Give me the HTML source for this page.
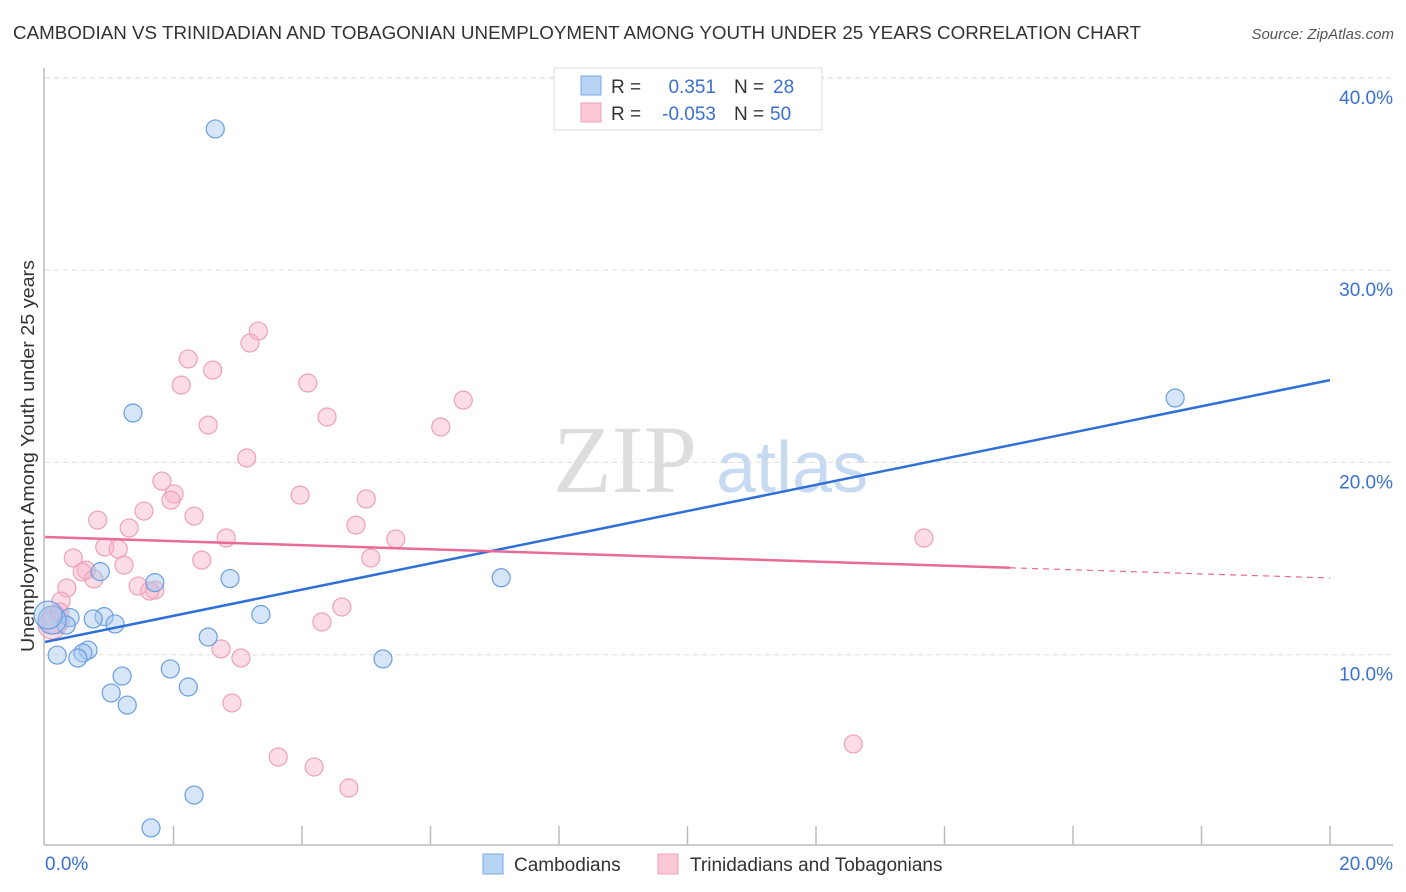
<!DOCTYPE html>
<html><head><meta charset="utf-8"><style>
body{margin:0;background:#fff;font-family:"Liberation Sans",sans-serif;}
svg{display:block}
</style></head><body>
<svg id="chart" width="1406" height="892" xmlns="http://www.w3.org/2000/svg">
<text x="13" y="39" font-size="18" fill="#333" textLength="1128" lengthAdjust="spacingAndGlyphs">CAMBODIAN VS TRINIDADIAN AND TOBAGONIAN UNEMPLOYMENT AMONG YOUTH UNDER 25 YEARS CORRELATION CHART</text>
<text x="1394" y="39" font-size="15" fill="#555" text-anchor="end" font-style="italic">Source: ZipAtlas.com</text>
<g><text x="553" y="492" font-size="96" fill="#ddd" font-family="Liberation Serif,serif">ZIP</text><text x="716" y="492" font-size="72" fill="#c8daf2">atlas</text></g>
<g id="grid"></g>
<g id="axes"></g>
<g id="marks"></g>
<text transform="translate(34,456) rotate(-90)" font-size="18" fill="#333" text-anchor="middle" textLength="392" lengthAdjust="spacingAndGlyphs">Unemployment Among Youth under 25 years</text>
<g>
<rect x="554" y="68" width="268" height="62" fill="#fff" stroke="#ddd"/>
<rect x="581" y="76" width="20" height="19" fill="#b8d4f5" stroke="#7aa8e6"/>
<rect x="581" y="103" width="20" height="19" fill="#fcc8d6" stroke="#eea0b8"/>
<text x="611" y="93" font-size="19" fill="#333">R = </text><text x="716" y="93" font-size="19" fill="#3b70d0" text-anchor="end">0.351</text>
<text x="734" y="93" font-size="19" fill="#333">N = </text><text x="773" y="93" font-size="19" fill="#3b70d0">28</text>
<text x="611" y="120" font-size="19" fill="#333">R = </text><text x="716" y="120" font-size="19" fill="#3b70d0" text-anchor="end">-0.053</text>
<text x="734" y="120" font-size="19" fill="#333">N = </text><text x="770" y="120" font-size="19" fill="#3b70d0">50</text>
</g>
<g>
<rect x="483" y="854" width="20" height="20" fill="#b8d4f5" stroke="#7aa8e6"/>
<text x="514" y="871" font-size="19" fill="#333">Cambodians</text>
<rect x="658" y="854" width="20" height="20" fill="#fcc8d6" stroke="#eea0b8"/>
<text x="690" y="871" font-size="19" fill="#333">Trinidadians and Tobagonians</text>
</g>
</svg>
<script>
const xTicks=[0,2,4,6,8,10,12,14,16,18,20];
const yTicks=[10,20,30,40];
const yTickLabels=["10.0%","20.0%","30.0%","40.0%"];
const blueX=[2.65,1.37,17.59,7.10,2.88,1.71,0.86,3.36,0.39,0.92,0.75,1.09,0.33,0.11,2.54,0.67,0.59,0.19,0.51,5.26,1.95,1.20,2.23,1.03,1.28,2.32,1.65,0.05];
const blueY=[37.34,22.57,23.35,14.0,13.96,13.75,14.32,12.09,11.93,11.98,11.86,11.60,11.54,11.80,10.92,10.24,10.09,9.98,9.83,9.78,9.26,8.89,8.32,8.01,7.38,2.70,0.99,12.06];
const pinkX=[3.32,3.19,2.23,2.61,2.12,4.09,4.39,2.54,6.51,6.16,3.14,1.82,2.01,1.96,3.97,5.00,0.82,1.54,2.32,1.31,4.84,2.82,5.46,13.68,0.93,1.14,0.44,2.44,5.07,1.23,0.64,0.58,0.76,0.34,1.45,1.71,1.63,0.25,4.62,4.31,0.16,2.74,3.05,2.91,12.58,3.63,4.19,4.73,0.11,0.23];
const pinkY=[26.83,26.21,25.38,24.80,24.02,24.13,22.36,21.94,23.24,21.84,20.23,19.03,18.36,18.04,18.30,18.10,17.00,17.47,17.21,16.59,16.74,16.07,16.02,16.07,15.60,15.50,15.03,14.92,15.03,14.66,14.40,14.30,13.94,13.47,13.57,13.36,13.31,12.79,12.48,11.70,11.80,10.30,9.83,7.49,5.36,4.68,4.16,3.07,11.54,12.22];
const blueLine=[10.66,24.28];
const pinkLine=[16.12,13.99];
const pinkSolidEnd=15.02;
const NS="http://www.w3.org/2000/svg";
const X0=45,X1=1330,YB=847,PX=19.23;
const xs=v=>X0+(v/20)*(X1-X0);
const ys=v=>YB-v*PX;
function mk(tag,attrs,parent){const e=document.createElementNS(NS,tag);for(const k in attrs)e.setAttribute(k,attrs[k]);parent.appendChild(e);return e;}
const grid=document.getElementById('grid'),axes=document.getElementById('axes'),marks=document.getElementById('marks');
yTicks.forEach((t,i)=>{
 const l=mk('line',{x1:45,x2:1393,y1:ys(t),y2:ys(t),stroke:'#ddd','stroke-dasharray':'5,4'},grid);
 
 
 const tx=mk('text',{x:1393,y:ys(t)+26,'font-size':19,fill:'#3b70d0','text-anchor':'end'},axes);
 tx.textContent=yTickLabels[i];
 
 
});
const gt=mk('line',{x1:45,x2:1393,y1:78,y2:78,stroke:'#ddd','stroke-dasharray':'5,4'},grid);


const ax=mk('line',{x1:44,x2:1393,y1:845,y2:845,stroke:'#bbb','stroke-width':1.5},axes);


const ay=mk('line',{x1:44,x2:44,y1:68,y2:845,stroke:'#bbb','stroke-width':1.5},axes);


xTicks.forEach(t=>{if(t===0)return;
 const l=mk('line',{x1:xs(t),x2:xs(t),y1:826,y2:845,stroke:'#bbb','stroke-width':1.5},axes);
 
 
});
const xl0=mk('text',{x:45,y:870,'font-size':19,fill:'#3b70d0'},axes);xl0.textContent='0.0%';


const xl1=mk('text',{x:1393,y:870,'font-size':19,fill:'#3b70d0','text-anchor':'end'},axes);xl1.textContent='20.0%';


function pts(X,Y,fill,stroke,name){X.forEach((x,i)=>{
 const big=(x<0.2&&Y[i]>11&&Y[i]<12.5);
 const c=mk('circle',{cx:xs(x),cy:ys(Y[i]),r:big?14:9,fill:fill,stroke:stroke,'stroke-width':1.2},marks);
 
 
});}
pts(pinkX,pinkY,'rgba(248,180,202,0.45)','#eea0b8','trinidadian-point');
pts(blueX,blueY,'rgba(164,198,240,0.45)','#6a9ee0','cambodian-point');
const bl=mk('line',{x1:xs(0),y1:ys(blueLine[0]),x2:xs(20),y2:ys(blueLine[1]),stroke:'#2f6fd6','stroke-width':2.5},marks);


const pm=pinkLine[0]+(pinkLine[1]-pinkLine[0])*pinkSolidEnd/20;
const pl=mk('line',{x1:xs(0),y1:ys(pinkLine[0]),x2:xs(pinkSolidEnd),y2:ys(pm),stroke:'#e8699a','stroke-width':2.5},marks);


const pd=mk('line',{x1:xs(pinkSolidEnd),y1:ys(pm),x2:xs(20),y2:ys(pinkLine[1]),stroke:'#e8699a','stroke-width':1.2,'stroke-dasharray':'6,5'},marks);


</script>
</body></html>
